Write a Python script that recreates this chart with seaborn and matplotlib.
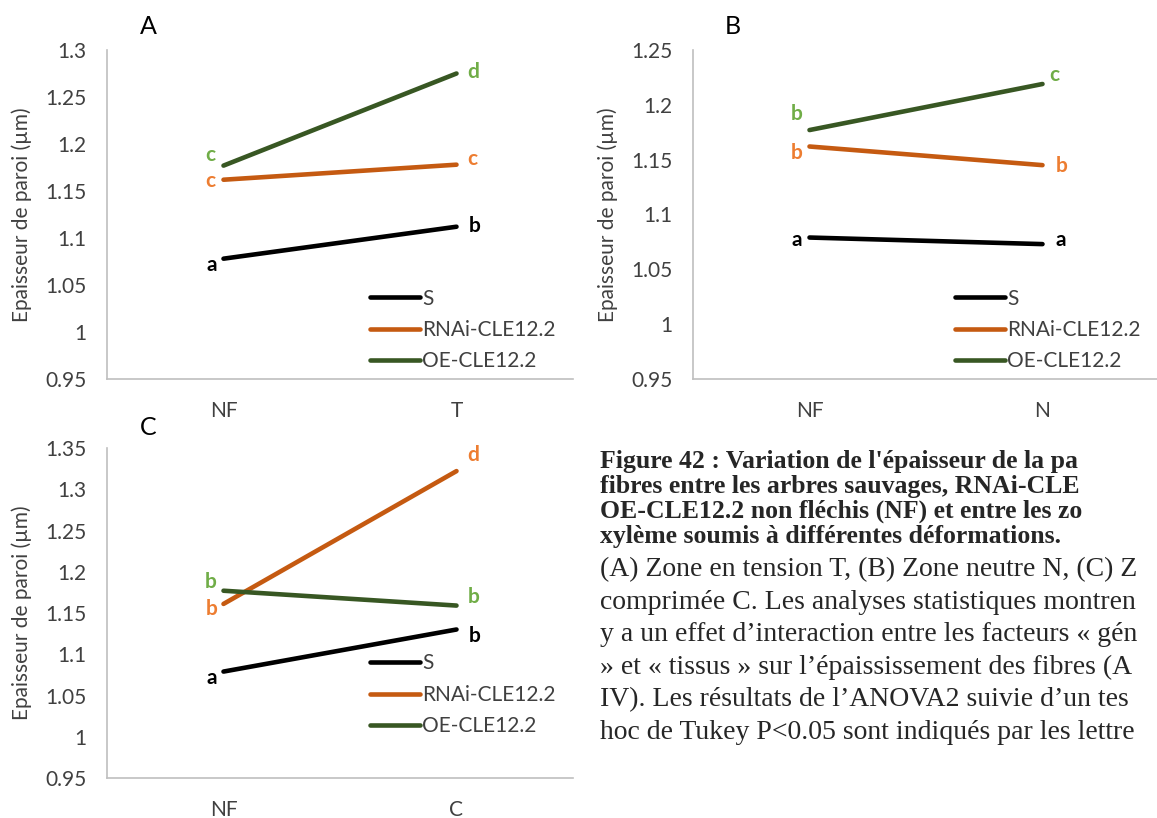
import numpy as np
import pandas as pd
import matplotlib.pyplot as plt
import seaborn as sns

# data
lignees = ["S", "RNAi-CLE12.2", "OE-CLE12.2"]

zones_a = ["NF", "T"]
a_s = [1.078, 1.112]
a_rnai = [1.162, 1.178]
a_oe = [1.177, 1.275]
lettres_a = [["a", "b"], ["c", "c"], ["c", "d"]]

zones_b = ["NF", "N"]
b_s = [1.079, 1.073]
b_rnai = [1.162, 1.145]
b_oe = [1.177, 1.219]
lettres_b = [["a", "a"], ["b", "b"], ["b", "c"]]

zones_c = ["NF", "C"]
c_s = [1.079, 1.130]
c_rnai = [1.161, 1.322]
c_oe = [1.177, 1.159]
lettres_c = [["a", "b"], ["b", "d"], ["b", "b"]]

couleurs = ["#000000", "#C55A11", "#385723"]
couleurs_lettres = ["#000000", "#ED7D31", "#70AD47"]
gris = "#BFBFBF"

sns.set_theme(style="white")
plt.rcParams["font.family"] = ["Lato", "DejaVu Sans"]

W, H = 1157, 818
fig = plt.figure(figsize=(W / 100, H / 100), dpi=100)


def px_axes(x0, y0, x1, y1):
    return fig.add_axes([x0 / W, 1 - y1 / H, (x1 - x0) / W, (y1 - y0) / H])


def panel(ax, zones, series, lettres, decalages, ymax, leg_xy):
    df = pd.DataFrame({
        "zone": zones * 3,
        "val": [v for s in series for v in s],
        "lignee": [l for l in lignees for _ in zones],
    })
    sns.lineplot(data=df, x="zone", y="val", hue="lignee", hue_order=lignees,
                 palette=couleurs, linewidth=3.3, sort=False, ax=ax,
                 solid_capstyle="round")
    ax.set_xlim(-0.5, 1.5)
    ax.set_ylim(0.95, ymax)
    ticks = np.round(np.arange(0.95, ymax + 0.001, 0.05), 2)
    ax.set_yticks(ticks)
    ax.set_yticklabels([f"{t:g}" for t in ticks])
    ax.set_xticks([0, 1])
    ax.set_xticklabels(zones)
    ax.set_xticks([-0.5, 0.5, 1.5], minor=True)
    ax.tick_params(axis="x", which="major", length=0, pad=16, labelsize=15, labelcolor="#404040")
    ax.tick_params(axis="x", which="minor", length=5, color=gris, direction="out", width=1.2)
    ax.tick_params(axis="y", length=5, color=gris, direction="out", width=1.2,
                   labelsize=15, labelcolor="#404040", pad=10)
    for sp in ["top", "right"]:
        ax.spines[sp].set_visible(False)
    for sp in ["left", "bottom"]:
        ax.spines[sp].set_color(gris)
        ax.spines[sp].set_linewidth(1.2)
    ax.set_xlabel("")
    ax.set_ylabel("Epaisseur de paroi (µm)", fontsize=15, color="#404040")
    ax.yaxis.set_label_coords(-0.16, 0.5)

    for i, s in enumerate(series):
        for j, z in enumerate(zones):
            dx, dy = decalages[i][j]
            ax.annotate(lettres[i][j], (j, s[j]), xytext=(dx, dy),
                        textcoords="offset pixels", ha="center", va="center",
                        fontsize=15, fontweight="bold", color=couleurs_lettres[i])

    sns.move_legend(ax, "center left", bbox_to_anchor=leg_xy, frameon=False,
                    title=None, fontsize=15, handlelength=2.4, handletextpad=0.1,
                    labelspacing=0.55, borderpad=0, borderaxespad=0,
                    labelcolor="#404040")


ax_a = px_axes(107, 50, 573, 379)
panel(ax_a, zones_a, [a_s, a_rnai, a_oe], lettres_a,
      [[(-12, -6), (18, 1)], [(-13, -1), (16, 6)], [(-13, 11), (17, 2)]],
      1.3, (0.564, 0.149))

ax_b = px_axes(693, 50, 1159, 379)
panel(ax_b, zones_b, [b_s, b_rnai, b_oe], lettres_b,
      [[(-13, -2), (18, 4)], [(-13, -6), (19, -1)], [(-13, 16), (12, 9)]],
      1.25, (0.562, 0.149))

ax_c = px_axes(107, 448, 573, 778)
panel(ax_c, zones_c, [c_s, c_rnai, c_oe], lettres_c,
      [[(-12, -6), (18, -6)], [(-12, -5), (17, 16)], [(-13, 9), (17, 9)]],
      1.35, (0.564, 0.252))

for lettre, x, y in [("A", 148, 27), ("B", 733, 27), ("C", 148, 427)]:
    fig.text(x / W, 1 - y / H, lettre, fontsize=18, ha="center", va="center", color="#000000")

legende_gras = [
    "Figure 42 : Variation de l'épaisseur de la pa",
    "fibres entre les arbres sauvages, RNAi-CLE",
    "OE-CLE12.2 non fléchis (NF) et entre les zo",
    "xylème soumis à différentes déformations.",
]
legende = [
    "(A) Zone en tension T, (B) Zone neutre N, (C) Z",
    "comprimée C. Les analyses statistiques montren",
    "y a un effet d’interaction entre les facteurs « gén",
    "» et « tissus » sur l’épaississement des fibres (A",
    "IV). Les résultats de l’ANOVA2 suivie d’un tes",
    "hoc de Tukey P<0.05 sont indiqués par les lettre",
]
for k, t in enumerate(legende_gras):
    fig.text(600 / W, 1 - (468 + 25 * k) / H, t, fontsize=18.5, fontweight="bold",
             family="Liberation Serif", ha="left", va="baseline")
for k, t in enumerate(legende):
    fig.text(600 / W, 1 - (576 + 32.6 * k) / H, t, fontsize=20,
             family="Liberation Serif", ha="left", va="baseline")

fig.savefig("out.png", dpi=100)
